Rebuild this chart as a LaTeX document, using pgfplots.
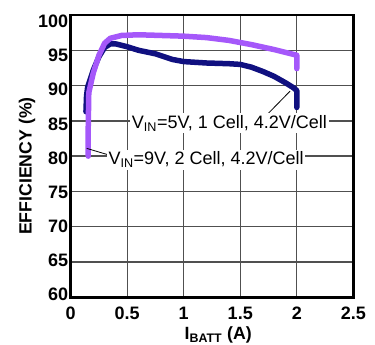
\documentclass[border=0pt]{standalone}
\usepackage{fontspec}
\setmainfont{Liberation Sans}
\usepackage{pgfplots}
\pgfplotsset{compat=1.18}
\definecolor{navyc}{RGB}{16,16,128}
\definecolor{purpc}{RGB}{165,88,250}
\definecolor{gridc}{RGB}{80,80,80}
\begin{document}
\begin{tikzpicture}
\useasboundingbox (0,0) rectangle (375bp,345bp);
\begin{axis}[
  at={(70.7bp,47.7bp)}, anchor=south west,
  scale only axis, width=282.6bp, height=282.3bp,
  xmin=0, xmax=2.5, ymin=60, ymax=100,
  xtick={0,0.5,1,1.5,2,2.5}, ytick={60,65,70,75,80,85,90,95,100},
  xticklabels={0,0.5,1,1.5,2,2.5},
  yticklabels={60,65,70,75,80,85,90,95,100},
  major tick length=0pt,
  grid=major,
  major grid style={gridc, line width=1.4bp},
  axis line style={black, line width=2.5bp},
  /pgf/number format/assume math mode=true,
  tick label style={font=\bfseries\fontsize{18bp}{20bp}\selectfont, inner sep=0pt},
  xticklabel style={anchor=north, yshift=-9.4bp},
  yticklabel style={anchor=east, xshift=-2.4bp, yshift={(3-1.19*\ticknum)*1bp}},
  xlabel={I\textsubscript{BATT} (A)},
  ylabel={EFFICIENCY (\%)},
  label style={font=\bfseries\fontsize{17.7bp}{20bp}\selectfont},
  xlabel style={at={(axis description cs:0.522,-0.151)}, anchor=base, inner sep=0pt},
  ylabel style={at={(axis description cs:-0.1546,0.465)}, anchor=center, inner sep=0pt},
  clip=false,
]
\addplot[navyc, line width=5.5bp, line join=round, line cap=round] coordinates {
(0.135,86.3) (0.14,88.5) (0.15,89.8) (0.2,92.2) (0.25,94.1) (0.3,95.4) (0.35,95.9) (0.4,95.9)
(0.5,95.5) (0.6,95.0) (0.75,94.5) (0.9,93.7) (1.0,93.4) (1.2,93.2) (1.4,93.1) (1.5,93.0)
(1.6,92.6) (1.7,92.0) (1.8,91.3) (1.9,90.4) (1.97,89.7) (2.0,89.3) (2.0,86.9)
};
\addplot[purpc, line width=5.5bp, line join=round, line cap=round] coordinates {
(0.155,80.0) (0.155,84) (0.16,89.0) (0.2,91.8) (0.25,94.3) (0.3,96.0) (0.35,96.7) (0.45,97.1)
(0.6,97.2) (0.8,97.1) (1.0,97.0) (1.2,96.8) (1.4,96.4) (1.6,95.8) (1.8,95.1) (2.0,94.3) (2.0,92.4)
};
\draw[black, line width=0.8bp] (axis cs:1.72,85.6) -- (axis cs:1.94,89.2);
\draw[black, line width=0.8bp] (axis cs:0.142,81.1) -- (axis cs:0.33,80.2);
\node[fill=white, anchor=base west, inner sep=1.8bp, font=\fontsize{18bp}{20bp}\selectfont]
  at (axis cs:0.524,83.95) {V\textsubscript{IN}=5V, 1 Cell, 4.2V/Cell};
\node[fill=white, anchor=base west, inner sep=1.8bp, font=\fontsize{18bp}{20bp}\selectfont]
  at (axis cs:0.317,78.75) {V\textsubscript{IN}=9V, 2 Cell, 4.2V/Cell};
\end{axis}
\end{tikzpicture}
\end{document}
